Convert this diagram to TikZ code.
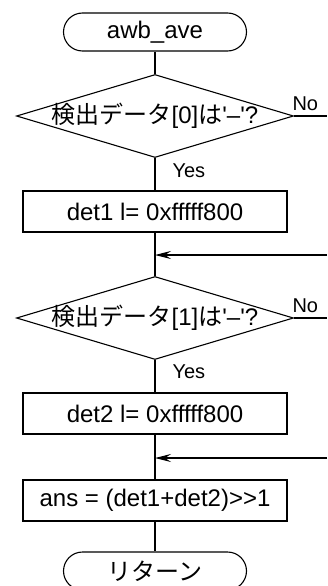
\documentclass[tikz,border=0pt]{standalone}
\usepackage{fontspec}
\setmainfont{Liberation Sans}
\newfontfamily\jp{Noto Sans CJK JP}
\usetikzlibrary{shapes.geometric,arrows.meta}
\begin{document}
\begin{tikzpicture}[x=1pt,y=-1pt,line width=1.1pt,
  bigfont/.style={font=\fontsize{24}{28}\selectfont},
  term/.style={draw,rectangle,rounded corners=19pt,minimum width=183pt,minimum height=38pt,inner sep=0pt,bigfont},
  proc/.style={draw,rectangle,minimum width=264pt,minimum height=41pt,inner sep=0pt,bigfont},
  dec/.style={draw,diamond,minimum width=277pt,minimum height=83pt,inner sep=0pt},
  dectext/.style={inner sep=0pt,bigfont},
  yn/.style={inner sep=0pt,font=\fontsize{20}{23}\selectfont},
  arr/.style={-{Stealth[length=16pt,width=8pt,inset=6pt]}}]
\useasboundingbox (0,0) rectangle (327,586);
\clip (0,0) rectangle (327,586);

\node[term] (start) at (155,32) {awb\_ave};
\node[dec] (d1) at (155,116) {};
\node[dectext] (d1t) at (d1.center) {{\jp 検出データ}[0]{\jp は}\textquotesingle–\textquotesingle?};
\node[yn,anchor=base west] (y1) at (172,177) {Yes};
\node[yn,anchor=base west] (n1) at (292,110) {No};
\node[proc] (b1) at (155,211.5) {det1 l= 0xfffff800};
\coordinate (m1) at (155,255);
\coordinate (r1) at (327,255);
\coordinate (e1) at (327,116);

\node[dec] (d2) at (155,318) {};
\node[dectext] (d2t) at (d2.center) {{\jp 検出データ}[1]{\jp は}\textquotesingle–\textquotesingle?};
\node[yn,anchor=base west] (y2) at (172,378) {Yes};
\node[yn,anchor=base west] (n2) at (292,312) {No};
\node[proc] (b2) at (155,413.5) {det2 l= 0xfffff800};
\coordinate (m2) at (155,458);
\coordinate (r2) at (327,458);
\coordinate (e2) at (327,318);
\node[proc] (b3) at (155,500.5) {ans = (det1+det2){>}{>}1};
\node[term] (end) at (155,571) {\jp リターン};

\draw (start.south) -- (d1.north);
\draw (d1.south) -- (b1.north);
\draw (b1.south) -- (d2.north);
\draw (d2.south) -- (b2.north);
\draw (b2.south) -- (b3.north);
\draw (b3.south) -- (end.north);
\draw (d1.east) -- (e1);
\draw (d2.east) -- (e2);
\draw[arr] (r1) -- (m1);
\draw[arr] (r2) -- (m2);
\end{tikzpicture}
\end{document}
